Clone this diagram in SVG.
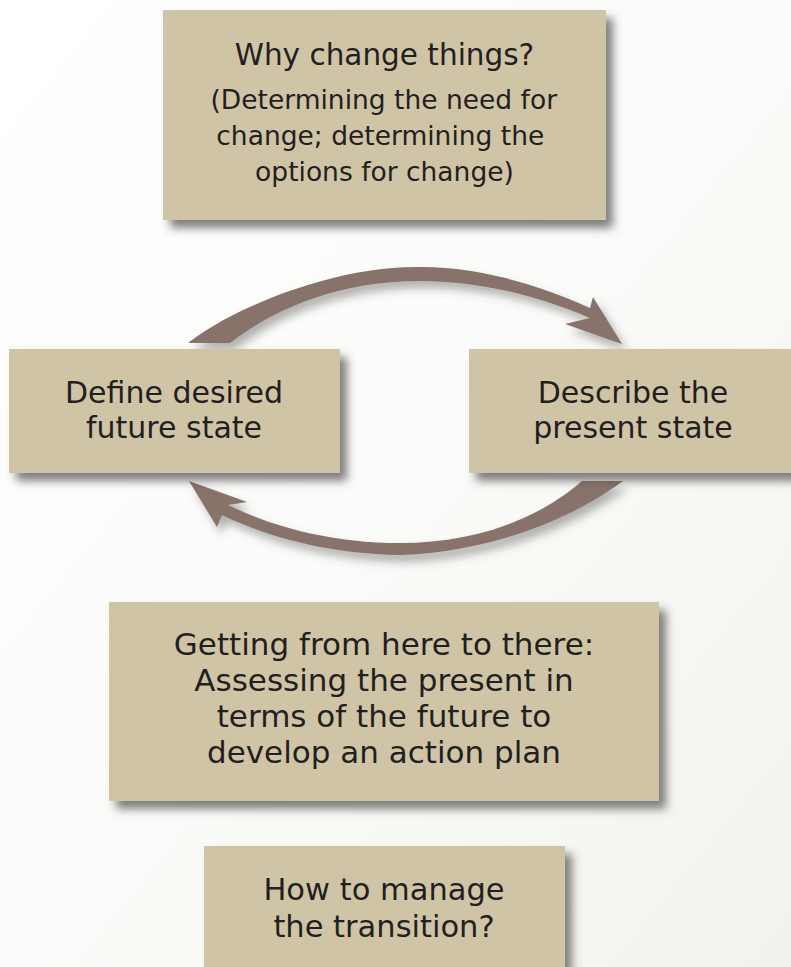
<svg xmlns="http://www.w3.org/2000/svg" width="791" height="967" viewBox="0 0 791 967">
  <defs>
    <linearGradient id="bg" x1="0" y1="0" x2="1" y2="1">
      <stop offset="0" stop-color="#ffffff"/>
      <stop offset="0.5" stop-color="#fbfbf9"/>
      <stop offset="1" stop-color="#f2f2ed"/>
    </linearGradient>
    <filter id="boxShadow" x="-10%" y="-10%" width="125%" height="130%">
      <feDropShadow dx="7" dy="8" stdDeviation="5" flood-color="#4a4a4a" flood-opacity="0.7"/>
    </filter>
    <filter id="arrowShadow" x="-10%" y="-20%" width="125%" height="150%">
      <feDropShadow dx="5" dy="7" stdDeviation="5" flood-color="#555555" flood-opacity="0.45"/>
    </filter>
  </defs>
  <style>
    .box { fill: #cfc5a6; filter: url(#boxShadow); }
    .lbl { font-family: "DejaVu Sans", "Liberation Sans", sans-serif; fill: #231f20; text-anchor: middle; }
    .arrow { fill: #88736a; filter: url(#arrowShadow); }
  </style>

  <rect x="0" y="0" width="791" height="967" fill="url(#bg)"/>

  <!-- curved arrows between the two state boxes -->
  <g id="connectors">
    <path class="arrow" d="M 188,343 C 230,310 330,266 420,267 C 480,267 540,285 590,308 L 593,297 L 622,344 L 565,324 L 590,318 C 540,296 480,281 420,281 C 340,281 275,308 230,343 Z"/>
    <path class="arrow" d="M 623,481 C 570,520 490,552 400,555 C 330,554 270,538 222,515 L 217,527 L 189,481 L 247,502 L 228,505 C 275,528 335,543 400,543 C 470,543 535,522 582,481 Z"/>
  </g>

  <g id="why">
    <rect class="box" x="163" y="10" width="443" height="210"/>
    <text class="lbl" x="384.5" y="65" font-size="29.5">Why change things?</text>
    <text class="lbl" x="388" font-size="26.5">
      <tspan x="388" y="109">(Determining the need for</tspan>
      <tspan x="384.5" y="145">change; determining the</tspan>
      <tspan x="384.5" y="181">options for change)</tspan>
    </text>
  </g>

  <g id="future">
    <rect class="box" x="9" y="349" width="331" height="124"/>
    <text class="lbl" x="174" y="403" font-size="30">Define desired</text>
    <text class="lbl" x="174" y="438" font-size="30">future state</text>
  </g>

  <g id="present">
    <rect class="box" x="469" y="349" width="340" height="124"/>
    <text class="lbl" x="633" y="403" font-size="30">Describe the</text>
    <text class="lbl" x="633" y="438" font-size="30">present state</text>
  </g>

  <g id="plan">
    <rect class="box" x="109" y="602" width="550" height="199"/>
    <text class="lbl" x="384" y="655" font-size="31">Getting from here to there:</text>
    <text class="lbl" x="384" y="691" font-size="31">Assessing the present in</text>
    <text class="lbl" x="384" y="727" font-size="31">terms of the future to</text>
    <text class="lbl" x="384" y="763" font-size="31">develop an action plan</text>
  </g>

  <g id="transition">
    <rect class="box" x="204" y="846" width="361" height="140"/>
    <text class="lbl" x="384" y="900" font-size="30.5">How to manage</text>
    <text class="lbl" x="384" y="937" font-size="30.5">the transition?</text>
  </g>
</svg>
